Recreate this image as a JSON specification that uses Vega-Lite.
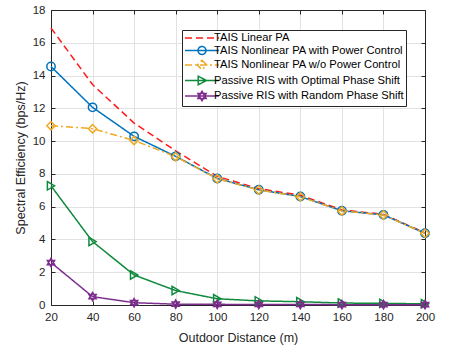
{
  "$schema": "https://vega.github.io/schema/vega-lite/v6.json",
  "width": 374,
  "height": 295,
  "autosize": {"type": "none"},
  "padding": {"left": 51, "top": 10, "right": 24, "bottom": 47},
  "background": "white",
  "config": {
    "view": {"stroke": "#262626", "strokeWidth": 1},
    "axis": {
      "labelFont": "Liberation Sans",
      "labelFontSize": 11.5,
      "labelColor": "#262626",
      "labelFlush": false,
      "titleFont": "Liberation Sans",
      "titleFontSize": 12.5,
      "titleFontWeight": "normal",
      "titleColor": "#262626",
      "domainColor": "#262626",
      "tickColor": "#262626",
      "gridColor": "#e2e2e2",
      "gridWidth": 1,
      "tickSize": -4,
      "labelPadding": 10
    }
  },
  "data": {
    "values": [
      {"d": 20, "s": "TAIS Linear PA", "v": 16.9},
      {"d": 40, "s": "TAIS Linear PA", "v": 13.45},
      {"d": 60, "s": "TAIS Linear PA", "v": 11.1},
      {"d": 80, "s": "TAIS Linear PA", "v": 9.4},
      {"d": 100, "s": "TAIS Linear PA", "v": 7.85},
      {"d": 120, "s": "TAIS Linear PA", "v": 7.1},
      {"d": 140, "s": "TAIS Linear PA", "v": 6.7},
      {"d": 160, "s": "TAIS Linear PA", "v": 5.8},
      {"d": 180, "s": "TAIS Linear PA", "v": 5.53},
      {"d": 200, "s": "TAIS Linear PA", "v": 4.4},
      {"d": 20, "s": "TAIS Nonlinear PA with Power Control", "v": 14.55},
      {"d": 40, "s": "TAIS Nonlinear PA with Power Control", "v": 12.06},
      {"d": 60, "s": "TAIS Nonlinear PA with Power Control", "v": 10.29},
      {"d": 80, "s": "TAIS Nonlinear PA with Power Control", "v": 9.07},
      {"d": 100, "s": "TAIS Nonlinear PA with Power Control", "v": 7.72},
      {"d": 120, "s": "TAIS Nonlinear PA with Power Control", "v": 7.03},
      {"d": 140, "s": "TAIS Nonlinear PA with Power Control", "v": 6.62},
      {"d": 160, "s": "TAIS Nonlinear PA with Power Control", "v": 5.75},
      {"d": 180, "s": "TAIS Nonlinear PA with Power Control", "v": 5.5},
      {"d": 200, "s": "TAIS Nonlinear PA with Power Control", "v": 4.38},
      {"d": 20, "s": "TAIS Nonlinear PA w/o Power Control", "v": 10.94},
      {"d": 40, "s": "TAIS Nonlinear PA w/o Power Control", "v": 10.76},
      {"d": 60, "s": "TAIS Nonlinear PA w/o Power Control", "v": 10.04},
      {"d": 80, "s": "TAIS Nonlinear PA w/o Power Control", "v": 9.05},
      {"d": 100, "s": "TAIS Nonlinear PA w/o Power Control", "v": 7.7},
      {"d": 120, "s": "TAIS Nonlinear PA w/o Power Control", "v": 7.02},
      {"d": 140, "s": "TAIS Nonlinear PA w/o Power Control", "v": 6.61},
      {"d": 160, "s": "TAIS Nonlinear PA w/o Power Control", "v": 5.74},
      {"d": 180, "s": "TAIS Nonlinear PA w/o Power Control", "v": 5.49},
      {"d": 200, "s": "TAIS Nonlinear PA w/o Power Control", "v": 4.37},
      {"d": 20, "s": "Passive RIS with Optimal Phase Shift", "v": 7.27},
      {"d": 40, "s": "Passive RIS with Optimal Phase Shift", "v": 3.87},
      {"d": 60, "s": "Passive RIS with Optimal Phase Shift", "v": 1.83},
      {"d": 80, "s": "Passive RIS with Optimal Phase Shift", "v": 0.88},
      {"d": 100, "s": "Passive RIS with Optimal Phase Shift", "v": 0.38},
      {"d": 120, "s": "Passive RIS with Optimal Phase Shift", "v": 0.25},
      {"d": 140, "s": "Passive RIS with Optimal Phase Shift", "v": 0.2},
      {"d": 160, "s": "Passive RIS with Optimal Phase Shift", "v": 0.12},
      {"d": 180, "s": "Passive RIS with Optimal Phase Shift", "v": 0.1},
      {"d": 200, "s": "Passive RIS with Optimal Phase Shift", "v": 0.07},
      {"d": 20, "s": "Passive RIS with Random Phase Shift", "v": 2.59},
      {"d": 40, "s": "Passive RIS with Random Phase Shift", "v": 0.51},
      {"d": 60, "s": "Passive RIS with Random Phase Shift", "v": 0.14},
      {"d": 80, "s": "Passive RIS with Random Phase Shift", "v": 0.05},
      {"d": 100, "s": "Passive RIS with Random Phase Shift", "v": 0.04},
      {"d": 120, "s": "Passive RIS with Random Phase Shift", "v": 0.03},
      {"d": 140, "s": "Passive RIS with Random Phase Shift", "v": 0.03},
      {"d": 160, "s": "Passive RIS with Random Phase Shift", "v": 0.02},
      {"d": 180, "s": "Passive RIS with Random Phase Shift", "v": 0.02},
      {"d": 200, "s": "Passive RIS with Random Phase Shift", "v": 0.02}
    ]
  },
  "resolve": {"axis": {"x": "independent", "y": "independent"}},
  "layer": [
    {
      "mark": {"type": "line", "strokeWidth": 1.5},
      "encoding": {
        "x": {
          "field": "d", "type": "quantitative",
          "scale": {"domain": [20, 200], "nice": false, "zero": false},
          "axis": {"title": "Outdoor Distance (m)", "values": [20, 40, 60, 80, 100, 120, 140, 160, 180, 200], "grid": true, "titlePadding": 9}
        },
        "y": {
          "field": "v", "type": "quantitative",
          "scale": {"domain": [0, 18], "nice": false},
          "axis": {"title": "Spectral Efficiency (bps/Hz)", "values": [0, 2, 4, 6, 8, 10, 12, 14, 16, 18], "grid": true, "titlePadding": 5}
        },
        "color": {
          "field": "s", "type": "nominal",
          "scale": {
            "domain": ["TAIS Linear PA", "TAIS Nonlinear PA with Power Control", "TAIS Nonlinear PA w/o Power Control", "Passive RIS with Optimal Phase Shift", "Passive RIS with Random Phase Shift"],
            "range": ["#ff1a1a", "#0072bd", "#f0a820", "#0f8a3c", "#7e2f8e"]
          },
          "legend": {
            "orient": "none",
            "legendX": 131,
            "legendY": 20,
            "title": null,
            "labelFont": "Liberation Sans",
            "labelFontSize": 11.2,
            "labelColor": "#000000",
            "padding": 2,
            "rowPadding": -0.5,
            "fillColor": "white",
            "strokeColor": "#262626",
            "symbolSize": 100,
            "symbolStrokeWidth": 1.5,
            "symbolOffset": 12,
            "labelOffset": 6,
            "labelLimit": 400,
            "encode": {
              "symbols": {
                "update": {
                  "fill": {"value": "transparent"},
                  "shape": {"signal": "datum.value === 'TAIS Linear PA' ? 'M-3.4,0L3.4,0' : datum.value === 'TAIS Nonlinear PA with Power Control' ? 'M-3.4,0L3.4,0M0.8,0A0.8,0.8 0 1,1 -0.8,0A0.8,0.8 0 1,1 0.8,0Z' : datum.value === 'TAIS Nonlinear PA w/o Power Control' ? 'M-3.4,0L3.4,0M0,-0.95L0.95,0L0,0.95L-0.95,0Z' : datum.value === 'Passive RIS with Optimal Phase Shift' ? 'M-3.4,0L3.4,0M-0.75,-0.85L0.9,0L-0.75,0.85Z' : 'M-3.4,0L3.4,0M0,-0.95L0.82,0.48L-0.82,0.48ZM0,0.95L0.82,-0.48L-0.82,-0.48Z'"}
                }
              }
            }
          }
        },
        "strokeDash": {
          "field": "s", "type": "nominal",
          "scale": {
            "domain": ["TAIS Linear PA", "TAIS Nonlinear PA with Power Control", "TAIS Nonlinear PA w/o Power Control", "Passive RIS with Optimal Phase Shift", "Passive RIS with Random Phase Shift"],
            "range": [[7, 4], [1, 0], [7, 3, 2, 3], [1, 0], [1, 0]]
          }
        }
      }
    },
    {
      "transform": [{"filter": "datum.s !== 'TAIS Linear PA'"}],
      "mark": {"type": "point", "filled": false, "strokeWidth": 1.5, "opacity": 1},
      "encoding": {
        "x": {
          "field": "d", "type": "quantitative",
          "axis": {"orient": "top", "values": [20, 40, 60, 80, 100, 120, 140, 160, 180, 200], "labels": false, "grid": false, "title": null}
        },
        "y": {
          "field": "v", "type": "quantitative",
          "axis": {"orient": "right", "values": [0, 2, 4, 6, 8, 10, 12, 14, 16, 18], "labels": false, "grid": false, "title": null}
        },
        "color": {"field": "s", "type": "nominal"},
        "shape": {
          "field": "s", "type": "nominal",
          "scale": {
            "domain": ["TAIS Nonlinear PA with Power Control", "TAIS Nonlinear PA w/o Power Control", "Passive RIS with Optimal Phase Shift", "Passive RIS with Random Phase Shift"],
            "range": ["circle", "diamond", "triangle-right", "M0,-1L0.866,0.5L-0.866,0.5ZM0,1L0.866,-0.5L-0.866,-0.5Z"]
          },
          "legend": null
        },
        "size": {"value": 70}
      }
    }
  ]
}
